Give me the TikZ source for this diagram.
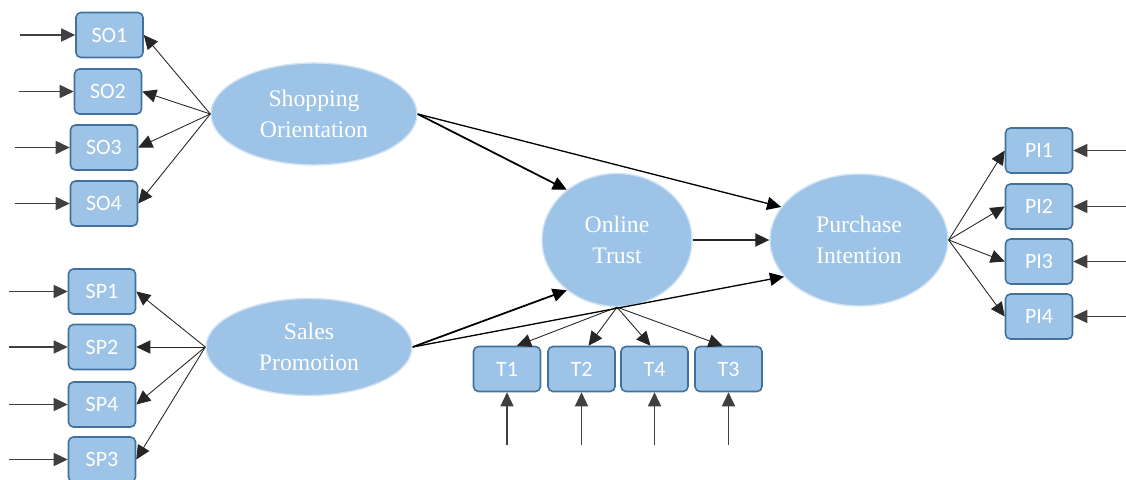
\documentclass[tikz,border=0pt]{standalone}
\usepackage{fontspec}
\setmainfont{Liberation Serif}
\newfontfamily\calfont{Carlito}
\usetikzlibrary{shapes.geometric,arrows.meta}
\definecolor{latfill}{RGB}{157,195,230}
\definecolor{boxline}{RGB}{65,113,156}
\definecolor{glow}{RGB}{208,227,244}
\tikzset{
  ind/.style={draw=boxline, fill=latfill, line width=0.9pt, rounded corners=2.8pt,
    minimum width=1.34cm, minimum height=0.9cm, inner sep=0pt, text=white,
    font=\calfont\fontsize{12.5}{14}\selectfont},
  lat/.style={ellipse, draw=glow, fill=latfill, line width=0.8pt, inner sep=0pt,
    text=white, align=center, font=\fontsize{13.5}{18}\selectfont},
  tip/.style={-{Triangle[length=8pt,width=7.5pt]}},
  strpath/.style={tip, line width=0.75pt, draw=black},
  loading/.style={tip, line width=0.5pt, draw=black!85},
  errterm/.style={tip, line width=0.6pt, draw=black!75}
}
\begin{document}
\begin{tikzpicture}[x=0.02cm,y=-0.02cm]
    \useasboundingbox (0,0) rectangle (1126,480);
    % latent variables
    \node[lat, minimum width=4.12cm, minimum height=2.04cm] (so) at (314,114) {Shopping\\Orientation};
    \node[lat, minimum width=4.12cm, minimum height=1.94cm] (sp) at (309,347) {Sales\\Promotion};
    \node[lat, minimum width=3.0cm, minimum height=2.66cm] (ot) at (617,240) {Online\\Trust};
    \node[lat, minimum width=3.56cm, minimum height=2.64cm] (pi) at (859,240) {Purchase\\Intention};
    % shopping orientation indicators
    \foreach \n/\x/\y/\l in {so1/109.5/35/SO1, so2/108/91.5/SO2, so3/104/147.5/SO3, so4/104/203.5/SO4} {
       \node[ind] (\n) at (\x,\y) {\l};
       \draw[loading] (so.west) -- (\n.east);
       \draw[errterm] ([xshift=-1.1cm]\n.west) -- (\n.west);
    }
    % sales promotion indicators
    \foreach \n/\y/\l in {sp1/291.5/SP1, sp2/347/SP2, sp4/404.5/SP4, sp3/459.5/SP3} {
       \node[ind] (\n) at (102,\y) {\l};
       \draw[loading] (sp.west) -- (\n.east);
       \draw[errterm] ([xshift=-1.18cm]\n.west) -- (\n.west);
    }
    % online trust indicators
    \foreach \n/\x/\d/\l in {t1/507/0.2/T1, t2/581.5/0.14/T2, t4/654.5/-0.08/T4, t3/728.5/-0.12/T3} {
       \node[ind] (\n) at (\x,369) {\l};
       \draw[loading] (ot.south) -- ([xshift=\d cm]\n.north);
       \draw[errterm] ([yshift=-1.05cm]\n.south) -- (\n.south);
    }
    % purchase intention indicators
    \foreach \n/\y/\l in {pi1/150.5/PI1, pi2/206.5/PI2, pi3/261.5/PI3, pi4/316.5/PI4} {
       \node[ind] (\n) at (1039,\y) {\l};
       \draw[loading] (pi.east) -- (\n.west);
       \draw[errterm] ([xshift=1.08cm]\n.east) -- (\n.east);
    }
    % structural paths
    \draw[strpath, line width=1pt] (so.east) -- (ot.135);
    \draw[strpath] (so.east) -- (pi.157);
    \draw[strpath, line width=1pt] (sp.east) -- (ot.225);
    \draw[strpath] (sp.east) -- (pi.206);
    \draw[strpath, draw=black!85] (ot.east) -- (pi.west);
\end{tikzpicture}
\end{document}
